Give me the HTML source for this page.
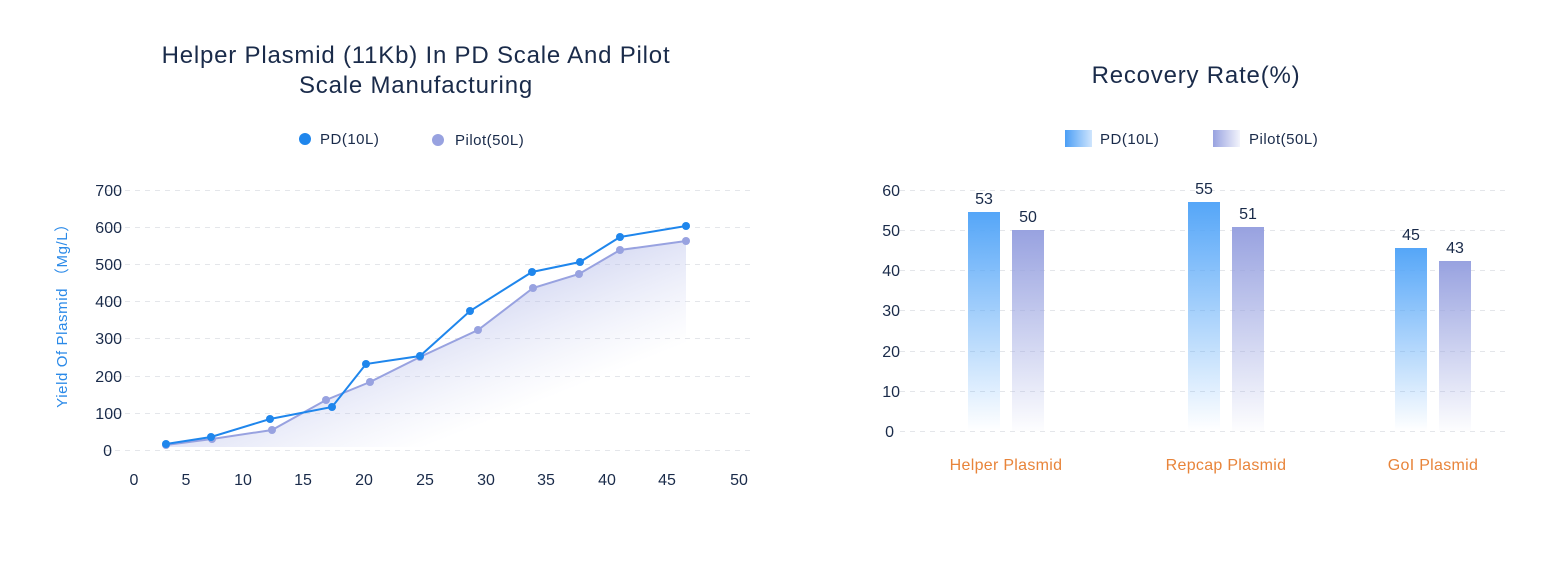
<!DOCTYPE html><html><head><style>body{margin:0;background:#fff}svg text{font-family:"Liberation Sans",sans-serif}</style></head><body>
<svg width="1560" height="570" xmlns="http://www.w3.org/2000/svg">
<defs>
<linearGradient id="fa" x1="0" y1="0" x2="1" y2="1"><stop offset="0.2" stop-color="#9aa3e0" stop-opacity="0.85"/><stop offset="0.75" stop-color="#c5cbef" stop-opacity="0"/></linearGradient>
<linearGradient id="gb" x1="0" y1="0" x2="0" y2="1"><stop offset="0" stop-color="#55a6f8"/><stop offset="1" stop-color="#55a6f8" stop-opacity="0"/></linearGradient>
<linearGradient id="gp" x1="0" y1="0" x2="0" y2="1"><stop offset="0" stop-color="#98a2e0"/><stop offset="1" stop-color="#98a2e0" stop-opacity="0.02"/></linearGradient>
<linearGradient id="lb" x1="0" y1="0" x2="1" y2="0"><stop offset="0" stop-color="#4b9ef5"/><stop offset="1" stop-color="#cfe5fd"/></linearGradient>
<linearGradient id="lp" x1="0" y1="0" x2="1" y2="0"><stop offset="0" stop-color="#98a2e0"/><stop offset="1" stop-color="#f3f4fc"/></linearGradient>
</defs>
<g fill="#1a2b4a" font-size="24" text-anchor="middle" letter-spacing="0.8"><text x="416" y="63">Helper Plasmid (11Kb) In PD Scale And Pilot</text><text x="416" y="93">Scale Manufacturing</text><text x="1196" y="83">Recovery Rate(%)</text></g>
<g font-size="15" fill="#1a2b4a" letter-spacing="0.5"><circle cx="305" cy="139" r="6" fill="#1f86ec"/><text x="320" y="144">PD(10L)</text><circle cx="438" cy="140" r="6" fill="#98a2e0"/><text x="455" y="145">Pilot(50L)</text>
<rect x="1065" y="130" width="27" height="17" fill="url(#lb)"/><text x="1100" y="144">PD(10L)</text><rect x="1213" y="130" width="27" height="17" fill="url(#lp)"/><text x="1249" y="144">Pilot(50L)</text></g>
<g stroke="#e4e6ea" stroke-dasharray="5,5" stroke-width="1">
<line x1="105" x2="750" y1="190.5" y2="190.5"/><line x1="105" x2="750" y1="227.5" y2="227.5"/><line x1="105" x2="750" y1="264.5" y2="264.5"/><line x1="105" x2="750" y1="301.5" y2="301.5"/><line x1="105" x2="750" y1="338.5" y2="338.5"/><line x1="105" x2="750" y1="376.5" y2="376.5"/><line x1="105" x2="750" y1="413.5" y2="413.5"/><line x1="105" x2="750" y1="450.5" y2="450.5"/>
<line x1="900" x2="1510" y1="190.5" y2="190.5"/><line x1="900" x2="1510" y1="230.5" y2="230.5"/><line x1="900" x2="1510" y1="270.5" y2="270.5"/><line x1="900" x2="1510" y1="310.5" y2="310.5"/><line x1="900" x2="1510" y1="351.5" y2="351.5"/><line x1="900" x2="1510" y1="391.5" y2="391.5"/><line x1="900" x2="1510" y1="431.5" y2="431.5"/>
</g>
<g font-size="16" fill="#1a2b4a" text-anchor="end"><text x="122" y="196">700</text><text x="122" y="233">600</text><text x="122" y="270">500</text><text x="122" y="307">400</text><text x="122" y="344">300</text><text x="122" y="382">200</text><text x="122" y="419">100</text><text x="112" y="456">0</text>
<text x="900" y="196">60</text><text x="900" y="236">50</text><text x="900" y="276">40</text><text x="900" y="316">30</text><text x="900" y="357">20</text><text x="900" y="397">10</text><text x="894" y="437">0</text></g>
<g font-size="16" fill="#1a2b4a" text-anchor="middle"><text x="134" y="485">0</text><text x="186" y="485">5</text><text x="243" y="485">10</text><text x="303" y="485">15</text><text x="364" y="485">20</text><text x="425" y="485">25</text><text x="486" y="485">30</text><text x="546" y="485">35</text><text x="607" y="485">40</text><text x="667" y="485">45</text><text x="739" y="485">50</text></g>
<text transform="translate(67,312) rotate(-90)" font-size="15" fill="#2b8ae8" text-anchor="middle" letter-spacing="0.6">Yield Of Plasmid （Mg/L）</text>
<path d="M166,445 L212,439 272,430 326,400 370,382 420,357 478,330 533,288 579,274 620,250 686,241 L686,447 L166,447Z" fill="url(#fa)"/>
<polyline points="166,445 212,439 272,430 326,400 370,382 420,357 478,330 533,288 579,274 620,250 686,241" fill="none" stroke="#98a2e0" stroke-width="2"/>
<g fill="#98a2e0"><circle cx="166" cy="445" r="4"/><circle cx="212" cy="439" r="4"/><circle cx="272" cy="430" r="4"/><circle cx="326" cy="400" r="4"/><circle cx="370" cy="382" r="4"/><circle cx="420" cy="357" r="4"/><circle cx="478" cy="330" r="4"/><circle cx="533" cy="288" r="4"/><circle cx="579" cy="274" r="4"/><circle cx="620" cy="250" r="4"/><circle cx="686" cy="241" r="4"/></g>
<polyline points="166,444 211,437 270,419 332,407 366,364 420,356 470,311 532,272 580,262 620,237 686,226" fill="none" stroke="#1f86ec" stroke-width="2"/>
<g fill="#1f86ec"><circle cx="166" cy="444" r="4"/><circle cx="211" cy="437" r="4"/><circle cx="270" cy="419" r="4"/><circle cx="332" cy="407" r="4"/><circle cx="366" cy="364" r="4"/><circle cx="420" cy="356" r="4"/><circle cx="470" cy="311" r="4"/><circle cx="532" cy="272" r="4"/><circle cx="580" cy="262" r="4"/><circle cx="620" cy="237" r="4"/><circle cx="686" cy="226" r="4"/></g>
<rect x="968" y="212" width="32" height="219" fill="url(#gb)"/><rect x="1012" y="230" width="32" height="201" fill="url(#gp)"/>
<rect x="1188" y="202" width="32" height="229" fill="url(#gb)"/><rect x="1232" y="227" width="32" height="204" fill="url(#gp)"/>
<rect x="1395" y="248" width="32" height="183" fill="url(#gb)"/><rect x="1439" y="261" width="32" height="170" fill="url(#gp)"/>
<g font-size="16" fill="#1a2b4a" text-anchor="middle"><text x="984" y="204">53</text><text x="1028" y="222">50</text><text x="1204" y="194">55</text><text x="1248" y="219">51</text><text x="1411" y="240">45</text><text x="1455" y="253">43</text></g>
<g font-size="16" fill="#e8843a" text-anchor="middle" letter-spacing="0.3"><text x="1006" y="470">Helper Plasmid</text><text x="1226" y="470">Repcap Plasmid</text><text x="1433" y="470">GoI Plasmid</text></g>
</svg></body></html>
